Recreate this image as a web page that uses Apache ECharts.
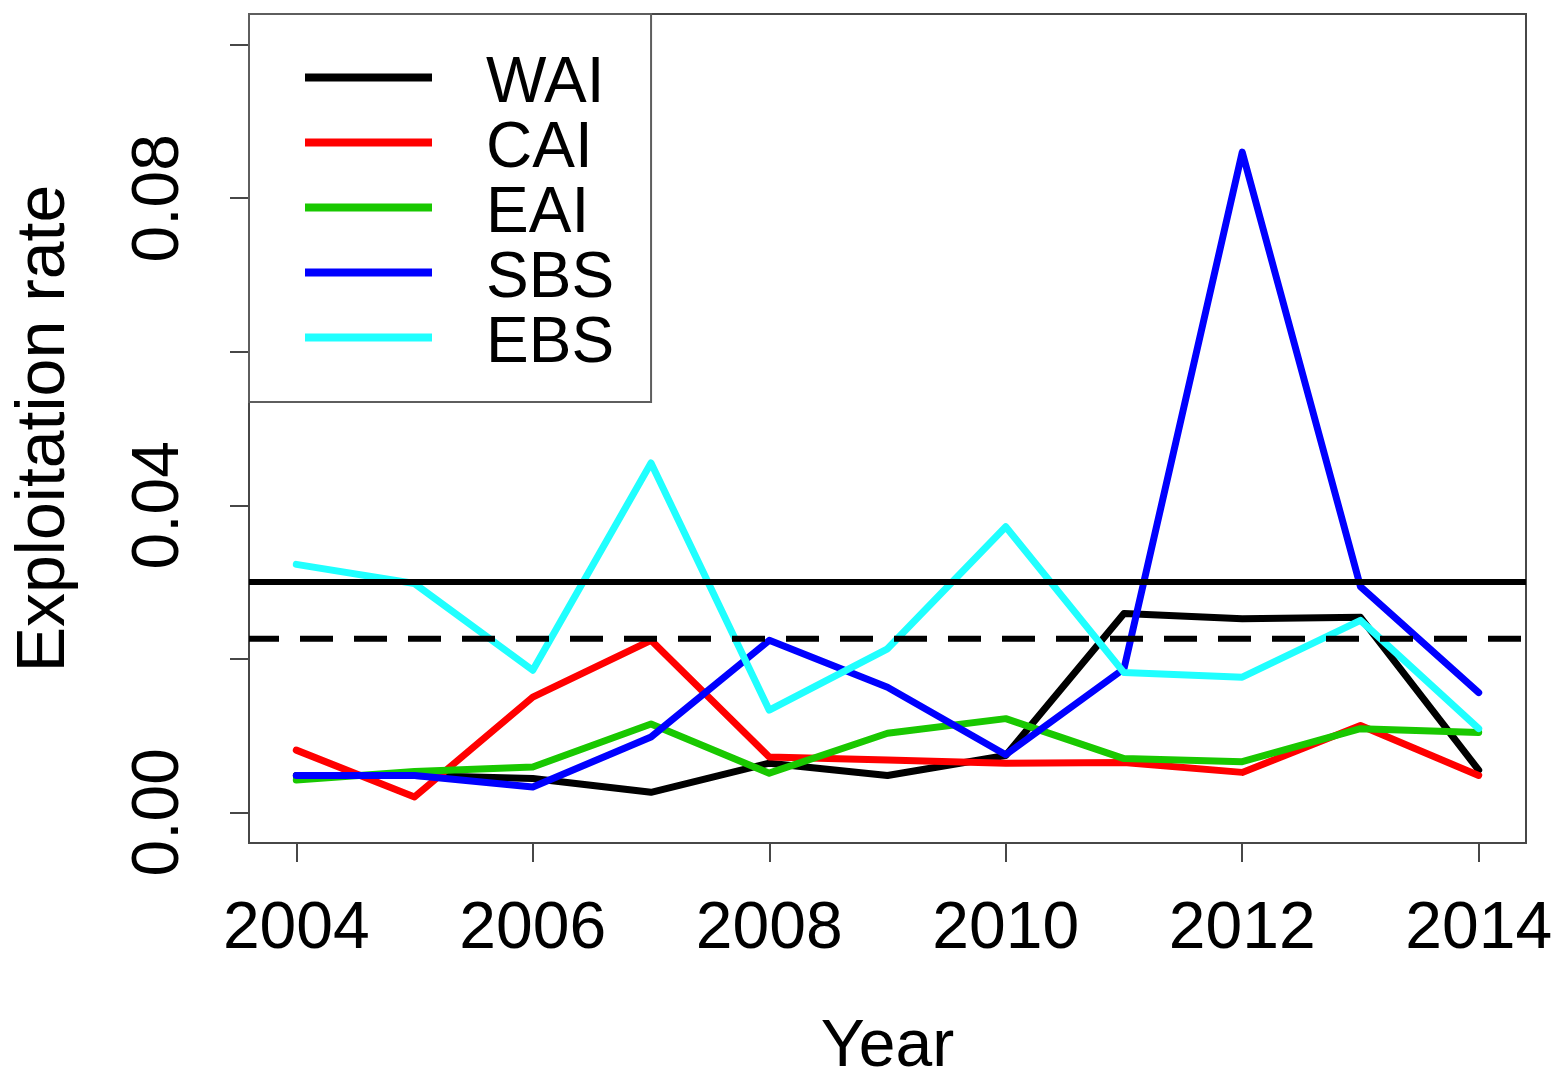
<!DOCTYPE html>
<html>
<head>
<meta charset="utf-8">
<script src="https://cdn.jsdelivr.net/npm/echarts@6/dist/echarts.min.js"></script>
<style>
  html, body { margin: 0; padding: 0; background: #ffffff; }
  #chart { width: 1556px; height: 1074px; }
</style>
</head>
<body>
<div id="chart"></div>
<script>
// ---- data ----
const years = [2004, 2005, 2006, 2007, 2008, 2009, 2010, 2011, 2012, 2013, 2014];
const WAI = [0.0048, 0.0048, 0.0044, 0.0026, 0.0064, 0.0048, 0.0074, 0.0259, 0.0252, 0.0254, 0.0055];
const CAI = [0.0081, 0.0020, 0.0150, 0.0224, 0.0072, 0.0068, 0.0064, 0.0065, 0.0052, 0.0113, 0.0048];
const EAI = [0.0042, 0.0053, 0.0059, 0.0115, 0.0051, 0.0103, 0.0122, 0.0070, 0.0066, 0.0109, 0.0104];
const SBS = [0.0048, 0.0048, 0.0033, 0.0098, 0.0224, 0.0163, 0.0075, 0.0187, 0.0860, 0.0294, 0.0156];
const EBS = [0.0323, 0.0298, 0.0185, 0.0455, 0.0133, 0.0213, 0.0372, 0.0182, 0.0176, 0.0250, 0.0109];
const seriesNames = ['WAI', 'CAI', 'EAI', 'SBS', 'EBS'];
const seriesValues = [WAI, CAI, EAI, SBS, EBS];
const seriesColors = ['#000000', '#FF0000', '#19C800', '#0000FF', '#20FFFF'];
const refSolid = 0.0300;
const refDashed = 0.0226;
const xRange = [2003.6, 2014.4];
const yRange = [-0.004, 0.104];
const xTicks = [2004, 2006, 2008, 2010, 2012, 2014];
const yTicks = [0, 0.02, 0.04, 0.06, 0.08, 0.10];
const yTickLabels = [0, 0.04, 0.08];

const FONT = '"Liberation Sans", Arial, Helvetica, sans-serif';
const AXIS_COLOR = '#474747';

const chart = echarts.init(document.getElementById('chart'), null, { renderer: 'canvas' });

const lineSeries = seriesNames.map((name, i) => ({
  name: name,
  type: 'line',
  data: years.map((y, j) => [y, seriesValues[i][j]]),
  symbol: 'none',
  lineStyle: { color: seriesColors[i], width: 7, cap: 'round', join: 'round' },
  itemStyle: { color: seriesColors[i] },
  emphasis: { disabled: true },
  z: 2 + i
}));

function refLine(name, value, type, offset) {
  return {
    name: name,
    type: 'line',
    data: xRange.map(x => [x, value]),
    symbol: 'none',
    silent: true,
    lineStyle: { color: '#000', width: 6, type: type, dashOffset: offset },
    itemStyle: { color: '#000' },
    emphasis: { disabled: true },
    z: 10
  };
}

const option = {
  animation: false,
  backgroundColor: '#ffffff',
  grid: {
    left: 249, right: 30, top: 14, bottom: 231,
    outerBoundsMode: 'none',
    containLabel: false,
    show: true, borderColor: AXIS_COLOR, borderWidth: 2, backgroundColor: 'transparent'
  },
  legend: {
    data: seriesNames,
    orient: 'vertical',
    left: 249, top: 14,
    padding: [38, 37, 25, 56],
    itemGap: 0,
    itemWidth: 127,
    itemHeight: 22,
    icon: 'path://M0,0H127V8H0ZM0,22L0.01,22',
    itemStyle: { borderWidth: 0 },
    backgroundColor: '#ffffff',
    borderColor: '#5e5e5e',
    borderWidth: 2,
    borderRadius: 0,
    selectedMode: false,
    textStyle: { fontFamily: FONT, fontSize: 64, lineHeight: 65, color: '#000', padding: [0, 0, 0, 49] }
  },
  xAxis: {
    type: 'value',
    min: xRange[0], max: xRange[1],
    name: 'Year',
    nameLocation: 'middle',
    nameGap: 172,
    nameTextStyle: { fontFamily: FONT, fontSize: 66, color: '#000' },
    axisLine: { show: false, onZero: false },
    splitLine: { show: false },
    axisTick: { show: true, customValues: xTicks, length: 19, lineStyle: { color: AXIS_COLOR, width: 2 } },
    axisLabel: { customValues: xTicks, margin: 54, fontFamily: FONT, fontSize: 66, color: '#000',
                 formatter: v => String(v) }
  },
  yAxis: {
    type: 'value',
    min: yRange[0], max: yRange[1],
    name: 'Exploitation rate',
    nameLocation: 'middle',
    nameGap: 170,
    nameTextStyle: { fontFamily: FONT, fontSize: 68, color: '#000' },
    axisLine: { show: false, onZero: false },
    splitLine: { show: false },
    axisTick: { show: true, customValues: yTicks, length: 19, lineStyle: { color: AXIS_COLOR, width: 2 } },
    axisLabel: { customValues: yTickLabels, rotate: 90, margin: 56, fontFamily: FONT, fontSize: 66, color: '#000',
                 formatter: v => Number(v).toFixed(2) }
  },
  series: lineSeries.concat([
    refLine('refSolid', refSolid, 'solid', 0),
    refLine('refDashed', refDashed, [33, 21], 3)
  ])
};

chart.setOption(option);
</script>
</body>
</html>
